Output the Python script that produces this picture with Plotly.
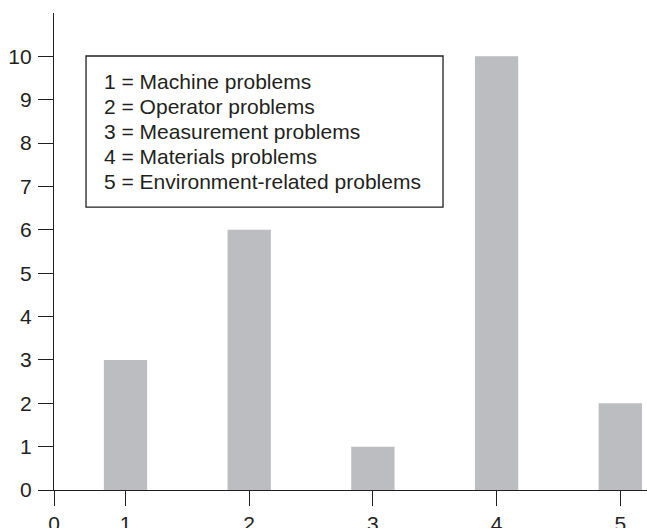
import plotly.graph_objects as go

# Problem categories and their counts
categories = [1, 2, 3, 4, 5]
counts = [3, 6, 1, 10, 2]
category_labels = [
    "1 = Machine problems",
    "2 = Operator problems",
    "3 = Measurement problems",
    "4 = Materials problems",
    "5 = Environment-related problems",
]
y_ticks = list(range(0, 11))

INK = "#231f20"
FONT = "Liberation Sans, Arial, Helvetica, sans-serif"

x_lo, x_hi = 0.422, 5.216

fig = go.Figure(
    go.Bar(
        x=categories,
        y=counts,
        width=0.35,
        marker=dict(color="#bcbdc0", line=dict(width=0)),
    )
)

fig.update_layout(
    width=647,
    height=528,
    margin=dict(l=54, r=0, t=13, b=38),
    paper_bgcolor="white",
    plot_bgcolor="white",
    showlegend=False,
    font=dict(family=FONT, size=21, color=INK),
)

fig.update_xaxes(
    range=[x_lo, x_hi],
    tickmode="array",
    tickvals=[x_lo] + categories,
    ticktext=["0"] + [str(c) for c in categories],
    ticks="outside",
    ticklen=15,
    tickwidth=1.3,
    tickcolor=INK,
    ticklabelstandoff=0,
    automargin=False,
    showline=True,
    linecolor=INK,
    linewidth=1.3,
    showgrid=False,
    zeroline=False,
    tickfont=dict(size=21, color=INK),
)
fig.update_yaxes(
    range=[0, 11],
    tickmode="array",
    tickvals=y_ticks,
    ticktext=[str(v) for v in y_ticks],
    ticks="outside",
    ticklen=15,
    tickwidth=1.3,
    tickcolor=INK,
    ticklabelstandoff=2,
    automargin=False,
    showline=True,
    linecolor=INK,
    linewidth=1.3,
    showgrid=False,
    zeroline=False,
    tickfont=dict(size=21, color=INK),
)

# Key box listing what each category number means
fig.add_shape(
    type="rect",
    xref="paper", yref="paper",
    x0=0.054, x1=0.656, y0=0.593, y1=0.9099,
    line=dict(color=INK, width=1.3),
    fillcolor="white",
    layer="above",
)
key_y = [0.856, 0.803, 0.752, 0.699, 0.647]
for label, yy in zip(category_labels, key_y):
    fig.add_annotation(
        x=0.081, y=yy, xref="paper", yref="paper",
        text=label, showarrow=False,
        xanchor="left", yanchor="middle",
        font=dict(family=FONT, size=21, color=INK),
    )

fig.write_html("out.html")
